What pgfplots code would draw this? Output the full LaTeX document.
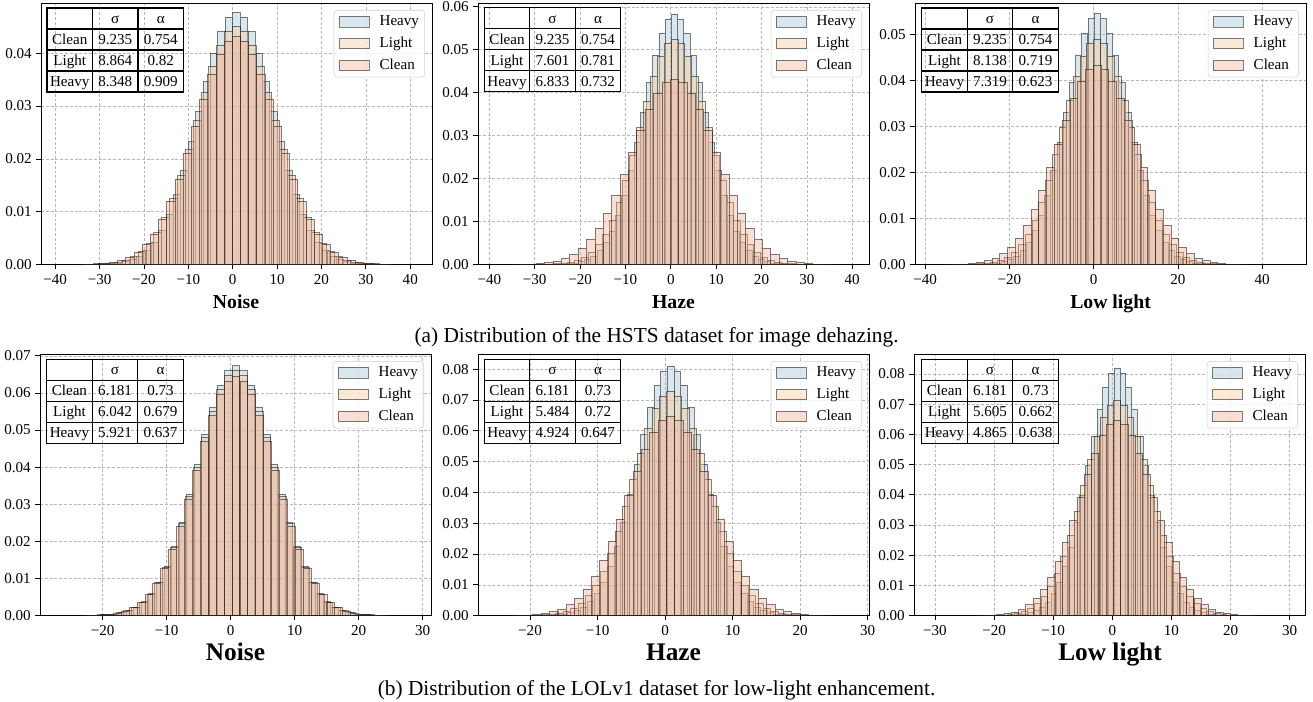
\documentclass[border=0pt]{standalone}
\usepackage{fontspec}
\setmainfont{Liberation Serif}
\usepackage{pgfplots}
\pgfplotsset{compat=1.18}
\usepackage{pgfplotstable}

\definecolor{cheavy}{HTML}{9DBFD4}
\definecolor{clight}{HTML}{F5C994}
\definecolor{cclean}{HTML}{F2AC92}
\newcommand{\fs}{\fontsize{11.3}{12.5}\selectfont}

% Clean, HSTS (shared by the three upper panels)
\pgfplotstableread[row sep=\\]{x y\\
-34.29 0.00006\\ -32.45 0.00010\\ -30.60 0.00017\\ -28.75 0.00029\\ -26.91 0.00052\\ -25.06 0.00086\\ -23.21 0.00147\\ -21.36 0.00242\\ -19.52 0.00384\\ -17.67 0.00583\\
-15.82 0.00855\\ -13.98 0.01201\\ -12.13 0.01620\\ -10.28 0.02104\\ -8.44 0.02622\\ -6.59 0.03136\\ -4.74 0.03607\\ -2.89 0.03987\\ -1.05 0.04234\\ 0.80 0.04320\\
2.65 0.04234\\ 4.49 0.03987\\ 6.34 0.03607\\ 8.19 0.03136\\ 10.04 0.02622\\ 11.88 0.02104\\ 13.73 0.01620\\ 15.58 0.01201\\ 17.42 0.00855\\ 19.27 0.00583\\
21.12 0.00384\\ 22.96 0.00242\\ 24.81 0.00147\\ 26.66 0.00086\\ 28.51 0.00052\\ 30.35 0.00029\\ 32.20 0.00017\\ 34.05 0.00010\\ 35.89 0.00006\\
}\tA
% Light, HSTS noise
\pgfplotstableread[row sep=\\]{x y\\
-32.89 0.00006\\ -31.11 0.00011\\ -29.34 0.00018\\ -27.57 0.00031\\ -25.80 0.00054\\ -24.02 0.00090\\ -22.25 0.00153\\ -20.48 0.00252\\ -18.70 0.00401\\ -16.93 0.00608\\
-15.16 0.00891\\ -13.38 0.01251\\ -11.61 0.01688\\ -9.84 0.02192\\ -8.07 0.02732\\ -6.29 0.03268\\ -4.52 0.03758\\ -2.75 0.04154\\ -0.97 0.04411\\ 0.80 0.04501\\
2.57 0.04411\\ 4.35 0.04154\\ 6.12 0.03758\\ 7.89 0.03268\\ 9.67 0.02732\\ 11.44 0.02192\\ 13.21 0.01688\\ 14.98 0.01251\\ 16.76 0.00891\\ 18.53 0.00608\\
20.30 0.00401\\ 22.08 0.00252\\ 23.85 0.00153\\ 25.62 0.00090\\ 27.40 0.00054\\ 29.17 0.00031\\ 30.94 0.00018\\ 32.71 0.00011\\ 34.49 0.00006\\
}\tB
% Heavy, HSTS noise
\pgfplotstableread[row sep=\\]{x y\\
-30.93 0.00007\\ -29.26 0.00011\\ -27.59 0.00019\\ -25.92 0.00032\\ -24.25 0.00057\\ -22.58 0.00096\\ -20.91 0.00162\\ -19.24 0.00268\\ -17.57 0.00425\\ -15.90 0.00645\\
-14.23 0.00946\\ -12.56 0.01329\\ -10.89 0.01792\\ -9.22 0.02327\\ -7.55 0.02901\\ -5.88 0.03470\\ -4.21 0.03990\\ -2.54 0.04411\\ -0.87 0.04683\\ 0.80 0.04779\\
2.47 0.04683\\ 4.14 0.04411\\ 5.81 0.03990\\ 7.48 0.03470\\ 9.15 0.02901\\ 10.82 0.02327\\ 12.49 0.01792\\ 14.16 0.01329\\ 15.83 0.00946\\ 17.50 0.00645\\
19.17 0.00425\\ 20.84 0.00268\\ 22.51 0.00162\\ 24.18 0.00096\\ 25.85 0.00057\\ 27.52 0.00032\\ 29.19 0.00019\\ 30.86 0.00011\\ 32.53 0.00007\\
}\tC
% Light, HSTS haze
\pgfplotstableread[row sep=\\]{x y\\
-28.08 0.00007\\ -26.56 0.00013\\ -25.04 0.00021\\ -23.52 0.00036\\ -22.00 0.00063\\ -20.48 0.00105\\ -18.96 0.00178\\ -17.44 0.00294\\ -15.92 0.00467\\ -14.40 0.00709\\
-12.88 0.01039\\ -11.36 0.01459\\ -9.84 0.01968\\ -8.32 0.02556\\ -6.80 0.03186\\ -5.28 0.03811\\ -3.76 0.04383\\ -2.24 0.04845\\ -0.72 0.05144\\ 0.80 0.05249\\
2.32 0.05144\\ 3.84 0.04845\\ 5.36 0.04383\\ 6.88 0.03811\\ 8.40 0.03186\\ 9.92 0.02556\\ 11.44 0.01968\\ 12.96 0.01459\\ 14.48 0.01039\\ 16.00 0.00709\\
17.52 0.00467\\ 19.04 0.00294\\ 20.56 0.00178\\ 22.08 0.00105\\ 23.60 0.00063\\ 25.12 0.00036\\ 26.64 0.00021\\ 28.16 0.00013\\ 29.68 0.00007\\
}\tD
% Heavy, HSTS haze
\pgfplotstableread[row sep=\\]{x y\\
-25.17 0.00008\\ -23.81 0.00014\\ -22.44 0.00023\\ -21.07 0.00040\\ -19.71 0.00070\\ -18.34 0.00117\\ -16.97 0.00198\\ -15.60 0.00327\\ -14.24 0.00520\\ -12.87 0.00788\\
-11.50 0.01156\\ -10.14 0.01623\\ -8.77 0.02189\\ -7.40 0.02843\\ -6.04 0.03544\\ -4.67 0.04238\\ -3.30 0.04875\\ -1.93 0.05388\\ -0.57 0.05721\\ 0.80 0.05838\\
2.17 0.05721\\ 3.53 0.05388\\ 4.90 0.04875\\ 6.27 0.04238\\ 7.64 0.03544\\ 9.00 0.02843\\ 10.37 0.02189\\ 11.74 0.01623\\ 13.10 0.01156\\ 14.47 0.00788\\
15.84 0.00520\\ 17.20 0.00327\\ 18.57 0.00198\\ 19.94 0.00117\\ 21.31 0.00070\\ 22.67 0.00040\\ 24.04 0.00023\\ 25.41 0.00014\\ 26.77 0.00008\\
}\tE
% Light, HSTS low light
\pgfplotstableread[row sep=\\]{x y\\
-30.13 0.00007\\ -28.50 0.00012\\ -26.88 0.00020\\ -25.25 0.00033\\ -23.62 0.00059\\ -21.99 0.00098\\ -20.36 0.00167\\ -18.74 0.00275\\ -17.11 0.00436\\ -15.48 0.00662\\
-13.85 0.00971\\ -12.22 0.01363\\ -10.60 0.01838\\ -8.97 0.02387\\ -7.34 0.02976\\ -5.71 0.03559\\ -4.08 0.04093\\ -2.46 0.04525\\ -0.83 0.04804\\ 0.80 0.04902\\
2.43 0.04804\\ 4.06 0.04525\\ 5.68 0.04093\\ 7.31 0.03559\\ 8.94 0.02976\\ 10.57 0.02387\\ 12.20 0.01838\\ 13.82 0.01363\\ 15.45 0.00971\\ 17.08 0.00662\\
18.71 0.00436\\ 20.34 0.00275\\ 21.96 0.00167\\ 23.59 0.00098\\ 25.22 0.00059\\ 26.85 0.00033\\ 28.48 0.00020\\ 30.10 0.00012\\ 31.73 0.00007\\
}\tF
% Heavy, HSTS low light
\pgfplotstableread[row sep=\\]{x y\\
-27.02 0.00008\\ -25.55 0.00013\\ -24.09 0.00022\\ -22.62 0.00037\\ -21.16 0.00065\\ -19.70 0.00109\\ -18.23 0.00185\\ -16.77 0.00305\\ -15.30 0.00485\\ -13.84 0.00736\\
-12.38 0.01079\\ -10.91 0.01515\\ -9.45 0.02044\\ -7.98 0.02655\\ -6.52 0.03309\\ -5.06 0.03957\\ -3.59 0.04552\\ -2.13 0.05031\\ -0.66 0.05342\\ 0.80 0.05451\\
2.26 0.05342\\ 3.73 0.05031\\ 5.19 0.04552\\ 6.66 0.03957\\ 8.12 0.03309\\ 9.58 0.02655\\ 11.05 0.02044\\ 12.51 0.01515\\ 13.98 0.01079\\ 15.44 0.00736\\
16.90 0.00485\\ 18.37 0.00305\\ 19.83 0.00185\\ 21.30 0.00109\\ 22.76 0.00065\\ 24.22 0.00037\\ 25.69 0.00022\\ 27.15 0.00013\\ 28.62 0.00008\\
}\tG
% Clean, LOLv1 (shared by the three lower panels)
\pgfplotstableread[row sep=\\]{x y\\
-22.68 0.00009\\ -21.45 0.00015\\ -20.21 0.00026\\ -18.98 0.00044\\ -17.74 0.00077\\ -16.50 0.00129\\ -15.27 0.00219\\ -14.03 0.00361\\ -12.80 0.00574\\ -11.56 0.00871\\
-10.32 0.01278\\ -9.09 0.01794\\ -7.85 0.02420\\ -6.62 0.03143\\ -5.38 0.03918\\ -4.14 0.04686\\ -2.91 0.05389\\ -1.67 0.05957\\ -0.44 0.06325\\ 0.80 0.06454\\
2.04 0.06325\\ 3.27 0.05957\\ 4.51 0.05389\\ 5.74 0.04686\\ 6.98 0.03918\\ 8.22 0.03143\\ 9.45 0.02420\\ 10.69 0.01794\\ 11.92 0.01278\\ 13.16 0.00871\\
14.40 0.00574\\ 15.63 0.00361\\ 16.87 0.00219\\ 18.10 0.00129\\ 19.34 0.00077\\ 20.58 0.00044\\ 21.81 0.00026\\ 23.05 0.00015\\ 24.28 0.00009\\
}\tH
% Light, LOL noise
\pgfplotstableread[row sep=\\]{x y\\
-22.15 0.00009\\ -20.94 0.00016\\ -19.74 0.00026\\ -18.53 0.00045\\ -17.32 0.00079\\ -16.11 0.00132\\ -14.90 0.00225\\ -13.70 0.00370\\ -12.49 0.00588\\ -11.28 0.00891\\
-10.07 0.01307\\ -8.86 0.01836\\ -7.66 0.02476\\ -6.45 0.03216\\ -5.24 0.04008\\ -4.03 0.04794\\ -2.82 0.05514\\ -1.62 0.06095\\ -0.41 0.06471\\ 0.80 0.06603\\
2.01 0.06471\\ 3.22 0.06095\\ 4.42 0.05514\\ 5.63 0.04794\\ 6.84 0.04008\\ 8.05 0.03216\\ 9.26 0.02476\\ 10.46 0.01836\\ 11.67 0.01307\\ 12.88 0.00891\\
14.09 0.00588\\ 15.30 0.00370\\ 16.50 0.00225\\ 17.71 0.00132\\ 18.92 0.00079\\ 20.13 0.00045\\ 21.34 0.00026\\ 22.54 0.00016\\ 23.75 0.00009\\
}\tI
% Heavy, LOL noise
\pgfplotstableread[row sep=\\]{x y\\
-21.70 0.00009\\ -20.51 0.00016\\ -19.33 0.00027\\ -18.14 0.00046\\ -16.96 0.00081\\ -15.78 0.00135\\ -14.59 0.00229\\ -13.41 0.00377\\ -12.22 0.00600\\ -11.04 0.00910\\
-9.86 0.01334\\ -8.67 0.01873\\ -7.49 0.02527\\ -6.30 0.03281\\ -5.12 0.04090\\ -3.94 0.04892\\ -2.75 0.05626\\ -1.57 0.06219\\ -0.38 0.06603\\ 0.80 0.06738\\
1.98 0.06603\\ 3.17 0.06219\\ 4.35 0.05626\\ 5.54 0.04892\\ 6.72 0.04090\\ 7.90 0.03281\\ 9.09 0.02527\\ 10.27 0.01873\\ 11.46 0.01334\\ 12.64 0.00910\\
13.82 0.00600\\ 15.01 0.00377\\ 16.19 0.00229\\ 17.38 0.00135\\ 18.56 0.00081\\ 19.74 0.00046\\ 20.93 0.00027\\ 22.11 0.00016\\ 23.30 0.00009\\
}\tJ
% Light, LOL haze
\pgfplotstableread[row sep=\\]{x y\\
-20.04 0.00010\\ -18.95 0.00017\\ -17.85 0.00029\\ -16.75 0.00049\\ -15.66 0.00087\\ -14.56 0.00146\\ -13.46 0.00247\\ -12.36 0.00407\\ -11.27 0.00647\\ -10.17 0.00982\\
-9.07 0.01440\\ -7.98 0.02022\\ -6.88 0.02728\\ -5.78 0.03543\\ -4.69 0.04416\\ -3.59 0.05282\\ -2.49 0.06075\\ -1.39 0.06715\\ -0.30 0.07130\\ 0.80 0.07275\\
1.90 0.07130\\ 2.99 0.06715\\ 4.09 0.06075\\ 5.19 0.05282\\ 6.29 0.04416\\ 7.38 0.03543\\ 8.48 0.02728\\ 9.58 0.02022\\ 10.67 0.01440\\ 11.77 0.00982\\
12.87 0.00647\\ 13.96 0.00407\\ 15.06 0.00247\\ 16.16 0.00146\\ 17.26 0.00087\\ 18.35 0.00049\\ 19.45 0.00029\\ 20.55 0.00017\\ 21.64 0.00010\\
}\tK
% Heavy, LOL haze
\pgfplotstableread[row sep=\\]{x y\\
-17.92 0.00011\\ -16.93 0.00019\\ -15.95 0.00032\\ -14.96 0.00055\\ -13.98 0.00097\\ -12.99 0.00162\\ -12.01 0.00275\\ -11.02 0.00454\\ -10.04 0.00721\\ -9.05 0.01094\\
-8.07 0.01604\\ -7.08 0.02252\\ -6.10 0.03038\\ -5.11 0.03946\\ -4.13 0.04918\\ -3.14 0.05882\\ -2.16 0.06765\\ -1.17 0.07478\\ -0.19 0.07940\\ 0.80 0.08102\\
1.79 0.07940\\ 2.77 0.07478\\ 3.76 0.06765\\ 4.74 0.05882\\ 5.73 0.04918\\ 6.71 0.03946\\ 7.70 0.03038\\ 8.68 0.02252\\ 9.67 0.01604\\ 10.65 0.01094\\
11.64 0.00721\\ 12.62 0.00454\\ 13.61 0.00275\\ 14.59 0.00162\\ 15.58 0.00097\\ 16.56 0.00055\\ 17.55 0.00032\\ 18.53 0.00019\\ 19.52 0.00011\\
}\tL
% Light, LOL low light
\pgfplotstableread[row sep=\\]{x y\\
-20.50 0.00010\\ -19.38 0.00017\\ -18.26 0.00028\\ -17.14 0.00048\\ -16.02 0.00085\\ -14.89 0.00142\\ -13.77 0.00242\\ -12.65 0.00399\\ -11.53 0.00634\\ -10.41 0.00961\\
-9.29 0.01409\\ -8.17 0.01979\\ -7.05 0.02669\\ -5.93 0.03466\\ -4.81 0.04321\\ -3.68 0.05168\\ -2.56 0.05944\\ -1.44 0.06570\\ -0.32 0.06976\\ 0.80 0.07118\\
1.92 0.06976\\ 3.04 0.06570\\ 4.16 0.05944\\ 5.28 0.05168\\ 6.41 0.04321\\ 7.53 0.03466\\ 8.65 0.02669\\ 9.77 0.01979\\ 10.89 0.01409\\ 12.01 0.00961\\
13.13 0.00634\\ 14.25 0.00399\\ 15.37 0.00242\\ 16.49 0.00142\\ 17.62 0.00085\\ 18.74 0.00048\\ 19.86 0.00028\\ 20.98 0.00017\\ 22.10 0.00010\\
}\tM
% Heavy, LOL low light
\pgfplotstableread[row sep=\\]{x y\\
-17.69 0.00011\\ -16.71 0.00020\\ -15.74 0.00033\\ -14.77 0.00056\\ -13.80 0.00098\\ -12.82 0.00164\\ -11.85 0.00279\\ -10.88 0.00459\\ -9.90 0.00730\\ -8.93 0.01107\\
-7.96 0.01624\\ -6.98 0.02280\\ -6.01 0.03075\\ -5.04 0.03993\\ -4.07 0.04977\\ -3.09 0.05953\\ -2.12 0.06847\\ -1.15 0.07569\\ -0.17 0.08036\\ 0.80 0.08200\\
1.77 0.08036\\ 2.75 0.07569\\ 3.72 0.06847\\ 4.69 0.05953\\ 5.67 0.04977\\ 6.64 0.03993\\ 7.61 0.03075\\ 8.58 0.02280\\ 9.56 0.01624\\ 10.53 0.01107\\
11.50 0.00730\\ 12.48 0.00459\\ 13.45 0.00279\\ 14.42 0.00164\\ 15.40 0.00098\\ 16.37 0.00056\\ 17.34 0.00033\\ 18.31 0.00020\\ 19.29 0.00011\\
}\tN

\pgfplotsset{
  hb/.style={ybar, bar shift=0pt, bar width=#1, draw=black, draw opacity=0.5, line width=0.42pt, fill opacity=0.38},
  heavy/.style={hb=#1, fill=cheavy, legend image code/.code={\draw[sharp corners,fill=cheavy,fill opacity=0.38,draw=black,draw opacity=0.5,line width=0.45pt] (0pt,-4pt) rectangle (22.5pt,4pt);}},
  light/.style={hb=#1, fill=clight, legend image code/.code={\draw[sharp corners,fill=clight,fill opacity=0.38,draw=black,draw opacity=0.5,line width=0.45pt] (0pt,-4pt) rectangle (22.5pt,4pt);}},
  clean/.style={hb=#1, fill=cclean, legend image code/.code={\draw[sharp corners,fill=cclean,fill opacity=0.38,draw=black,draw opacity=0.5,line width=0.45pt] (0pt,-4pt) rectangle (22.5pt,4pt);}},
  panel/.style={scale only axis, width=293.25pt, height=196.25pt, anchor=north west,
    ymin=0, scaled y ticks=false, scaled x ticks=false,
    axis line style={line width=0.6pt}, tick align=outside, tick pos=left,
    major tick length=3.5pt, tick style={black, line width=0.6pt},
    grid=major, grid style={dash pattern=on 2.2pt off 1.4pt, black!28, line width=0.5pt},
    tick label style={font=\fs},
    legend cell align=left,
    legend style={at={(rel axis cs:1,1)}, anchor=north east, xshift=-5.25pt, yshift=-5.25pt,
      draw=black!18, rounded corners=2.5pt, fill=white, fill opacity=0.8, text opacity=1,
      font=\fs, inner xsep=3.5pt, inner ysep=3.4pt, row sep=5.5pt, nodes={inner sep=0.8pt},
      /tikz/every odd column/.append style={column sep=7pt}}},
}

\newcommand{\stattable}[8]{%
\begin{scope}[shift={(#1*0.75pt,-#2*0.75pt)},x=0.75pt,y=-0.75pt,
  every node/.style={font=\fs, inner sep=0pt, text height=7.4pt, text depth=0pt, anchor=center}]
\draw[line width=0.85pt] (0,0) rectangle (136.5,84) (0,21)--(136.5,21) (0,42)--(136.5,42) (0,63)--(136.5,63) (45.5,0)--(45.5,84) (91,0)--(91,84);
\node at (68.25,10.5) {σ}; \node at (113.75,10.5) {α};
\node at (22.75,31.5) {Clean}; \node at (68.25,31.5) {#3}; \node at (113.75,31.5) {#4};
\node at (22.75,52.5) {Light}; \node at (68.25,52.5) {#5}; \node at (113.75,52.5) {#6};
\node at (22.75,73.5) {Heavy}; \node at (68.25,73.5) {#7}; \node at (113.75,73.5) {#8};
\end{scope}}

\begin{document}
\begin{tikzpicture}
\useasboundingbox (0pt,0pt) rectangle (984.75pt,-526.5pt);

% ---------- (a) HSTS ----------
\begin{axis}[panel, at={(30.75pt,-2.25pt)}, xmin=-43.2, xmax=44.9, ymax=0.0495,
  xtick={-40,-30,-20,-10,0,10,20,30,40}, xticklabels={−40,−30,−20,−10,0,10,20,30,40},
  ytick={0,0.01,0.02,0.03,0.04}, yticklabels={0.00,0.01,0.02,0.03,0.04}]
\addplot[heavy=1.670] table[x=x,y=y]{\tC}; \addlegendentry{Heavy}
\addplot[light=1.773] table[x=x,y=y]{\tB}; \addlegendentry{Light}
\addplot[clean=1.847] table[x=x,y=y]{\tA}; \addlegendentry{Clean}
\end{axis}

\begin{axis}[panel, at={(358.5pt,-2.25pt)}, xmin=-42.5, xmax=43.7, ymax=0.0609,
  xtick={-40,-30,-20,-10,0,10,20,30,40}, xticklabels={−40,−30,−20,−10,0,10,20,30,40},
  ytick={0,0.01,0.02,0.03,0.04,0.05,0.06}, yticklabels={0.00,0.01,0.02,0.03,0.04,0.05,0.06}]
\addplot[heavy=1.367] table[x=x,y=y]{\tE}; \addlegendentry{Heavy}
\addplot[light=1.520] table[x=x,y=y]{\tD}; \addlegendentry{Light}
\addplot[clean=1.847] table[x=x,y=y]{\tA}; \addlegendentry{Clean}
\end{axis}

\begin{axis}[panel, at={(686.25pt,-2.25pt)}, xmin=-42.4, xmax=50.4, ymax=0.0568,
  xtick={-40,-20,0,20,40}, xticklabels={−40,−20,0,20,40},
  ytick={0,0.01,0.02,0.03,0.04,0.05}, yticklabels={0.00,0.01,0.02,0.03,0.04,0.05}]
\addplot[heavy=1.464] table[x=x,y=y]{\tG}; \addlegendentry{Heavy}
\addplot[light=1.628] table[x=x,y=y]{\tF}; \addlegendentry{Light}
\addplot[clean=1.847] table[x=x,y=y]{\tA}; \addlegendentry{Clean}
\end{axis}

% ---------- (b) LOLv1 ----------
\begin{axis}[panel, at={(30pt,-265.5pt)}, xmin=-29.8, xmax=31.3, ymax=0.0705,
  xtick={-20,-10,0,10,20,30}, xticklabels={−20,−10,0,10,20,30},
  ytick={0,0.01,0.02,0.03,0.04,0.05,0.06,0.07}, yticklabels={0.00,0.01,0.02,0.03,0.04,0.05,0.06,0.07}]
\addplot[heavy=1.184] table[x=x,y=y]{\tJ}; \addlegendentry{Heavy}
\addplot[light=1.208] table[x=x,y=y]{\tI}; \addlegendentry{Light}
\addplot[clean=1.236] table[x=x,y=y]{\tH}; \addlegendentry{Clean}
\end{axis}

\begin{axis}[panel, at={(358.5pt,-265.5pt)}, xmin=-27.7, xmax=30.2, ymax=0.0849,
  xtick={-20,-10,0,10,20,30}, xticklabels={−20,−10,0,10,20,30},
  ytick={0,0.01,0.02,0.03,0.04,0.05,0.06,0.07,0.08}, yticklabels={0.00,0.01,0.02,0.03,0.04,0.05,0.06,0.07,0.08}]
\addplot[heavy=0.985] table[x=x,y=y]{\tL}; \addlegendentry{Heavy}
\addplot[light=1.097] table[x=x,y=y]{\tK}; \addlegendentry{Light}
\addplot[clean=1.236] table[x=x,y=y]{\tH}; \addlegendentry{Clean}
\end{axis}

\begin{axis}[panel, at={(685.5pt,-265.5pt)}, xmin=-33.55, xmax=32.6, ymax=0.0866,
  xtick={-30,-20,-10,0,10,20,30}, xticklabels={−30,−20,−10,0,10,20,30},
  ytick={0,0.01,0.02,0.03,0.04,0.05,0.06,0.07,0.08}, yticklabels={0.00,0.01,0.02,0.03,0.04,0.05,0.06,0.07,0.08}]
\addplot[heavy=0.973] table[x=x,y=y]{\tN}; \addlegendentry{Heavy}
\addplot[light=1.121] table[x=x,y=y]{\tM}; \addlegendentry{Light}
\addplot[clean=1.236] table[x=x,y=y]{\tH}; \addlegendentry{Clean}
\end{axis}

% statistics tables
\stattable{47}{8}{9.235}{0.754}{8.864}{0.82}{8.348}{0.909}
\stattable{484.3}{7.7}{9.235}{0.754}{7.601}{0.781}{6.833}{0.732}
\stattable{921.7}{8}{9.235}{0.754}{8.138}{0.719}{7.319}{0.623}
\stattable{46.7}{359.3}{6.181}{0.73}{6.042}{0.679}{5.921}{0.637}
\stattable{484.3}{359.3}{6.181}{0.73}{5.484}{0.72}{4.924}{0.647}
\stattable{921.7}{359.3}{6.181}{0.73}{5.605}{0.662}{4.865}{0.638}

% axis titles
\begin{scope}[every node/.style={anchor=base, inner sep=0pt}]
\node[font=\fontsize{14.8}{17}\selectfont\bfseries] at (177pt,-231pt) {Noise};
\node[font=\fontsize{14.8}{17}\selectfont\bfseries] at (505.1pt,-231pt) {Haze};
\node[font=\fontsize{14.8}{17}\selectfont\bfseries] at (832.9pt,-231pt) {Low light};
\node[font=\fontsize{19}{22}\selectfont\bfseries] at (176.6pt,-495.4pt) {Noise};
\node[font=\fontsize{19}{22}\selectfont\bfseries] at (505.1pt,-495.4pt) {Haze};
\node[font=\fontsize{19}{22}\selectfont\bfseries] at (832.5pt,-495.4pt) {Low light};
\node[font=\fontsize{16}{19}\selectfont] at (492.4pt,-256.9pt) {(a) Distribution of the HSTS dataset for image dehazing.};
\node[font=\fontsize{16}{19}\selectfont] at (492.4pt,-521.25pt) {(b) Distribution of the LOLv1 dataset for low-light enhancement.};
\end{scope}
\end{tikzpicture}
\end{document}
